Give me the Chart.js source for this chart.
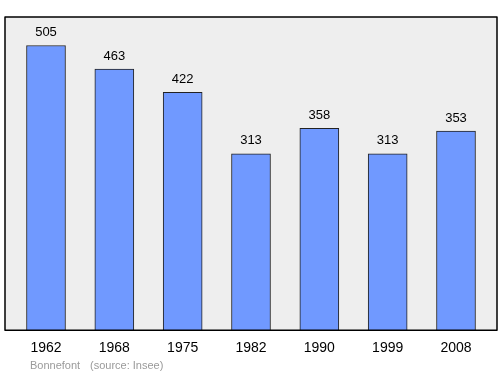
<!DOCTYPE html>
<html>
<head>
<meta charset="utf-8">
<script src="https://cdn.jsdelivr.net/npm/chart.js@4"></script>
<style>
  body { margin: 0; background: #fff; }
  #wrap { width: 500px; height: 374px; }
</style>
</head>
<body>
<div id="wrap"><canvas id="chart" width="500" height="374"></canvas></div>
<script>
const years = ['1962', '1968', '1975', '1982', '1990', '1999', '2008'];
const population = [505, 463, 422, 313, 358, 313, 353];
const commune = 'Bonnefont';
const source = '(source: Insee)';

const fontFamily = '"Liberation Sans", Arial, sans-serif';

// fond gris + cadre autour de la zone du graphique
const cadre = {
    id: 'cadre',
    beforeDraw(chart) {
        const { ctx, chartArea: a } = chart;
        ctx.save();
        ctx.fillStyle = '#eeeeee';
        ctx.fillRect(a.left, a.top, a.right - a.left, a.bottom - a.top);
        ctx.restore();
    },
    afterDatasetsDraw(chart) {
        const { ctx, chartArea: a } = chart;
        ctx.save();
        // valeurs au-dessus des barres
        ctx.fillStyle = '#000';
        ctx.font = '13px ' + fontFamily;
        ctx.textAlign = 'center';
        ctx.textBaseline = 'middle';
        chart.getDatasetMeta(0).data.forEach((bar, i) => {
            ctx.fillText(String(population[i]), bar.x, bar.y - 13);
        });
        ctx.strokeStyle = '#000';
        ctx.lineWidth = 1.5;
        ctx.lineJoin = 'round';
        ctx.strokeRect(a.left, a.top, a.right - a.left, a.bottom - a.top);
        // pied de page
        ctx.fillStyle = '#9a9a9a';
        ctx.font = '11px ' + fontFamily;
        ctx.textAlign = 'left';
        ctx.fillText(commune, 30, 366);
        ctx.fillText(source, 90, 366);
        ctx.restore();
    }
};

const ctx = document.getElementById('chart').getContext('2d');
const chart = new Chart(ctx, {
    type: 'bar',
    data: {
        datasets: [{
            data: years.map((y, i) => ({ x: i, y: population[i] })),
            backgroundColor: '#7099ff',
            borderColor: '#222222',
            borderWidth: 1,
            borderSkipped: 'bottom',
            barThickness: 39
        }]
    },
    options: {
        responsive: false,
        animation: false,
        layout: { padding: { left: 5, right: 3, top: 17, bottom: 7 } },
        scales: {
            x: {
                type: 'linear',
                offset: false,
                min: -0.6,
                max: 6.6,
                grid: { display: false, drawTicks: false },
                border: { display: false },
                afterBuildTicks: (axis) => {
                    axis.ticks = years.map((y, i) => ({ value: i }));
                },
                ticks: {
                    padding: 10,
                    color: '#000',
                    font: { family: fontFamily, size: 14 },
                    callback: (v) => years[v]
                }
            },
            y: {
                display: false,
                min: 0,
                max: 555.5
            }
        },
        plugins: {
            legend: { display: false },
            tooltip: { enabled: false }
        }
    },
    plugins: [cadre]
});
</script>
</body>
</html>
